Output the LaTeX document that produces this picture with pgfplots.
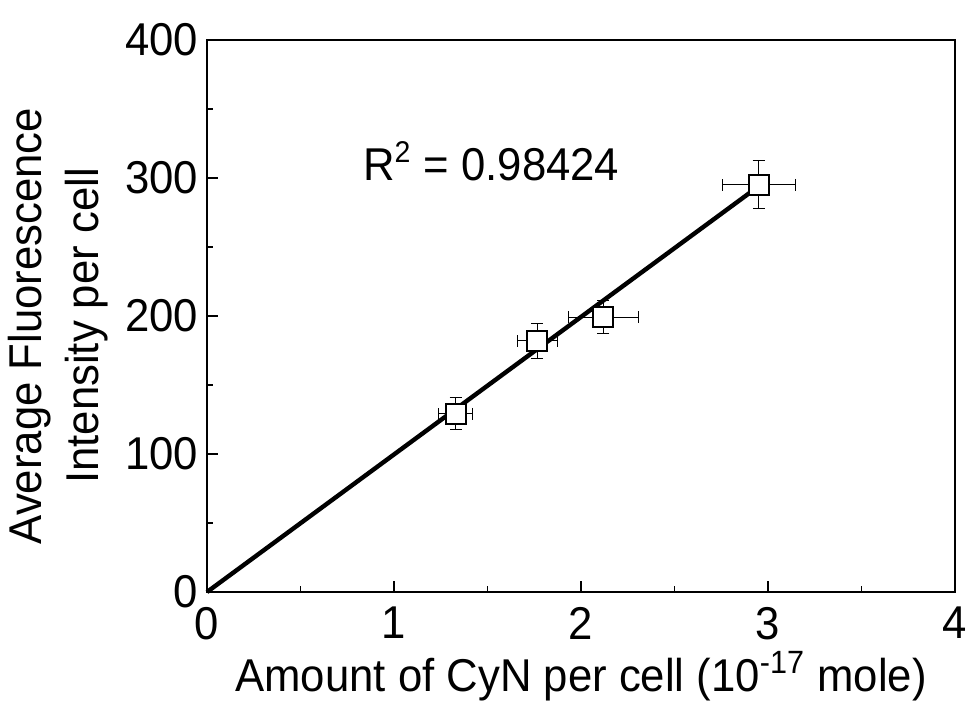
\documentclass[border=0pt]{standalone}
\usepackage{fontspec}
\setmainfont{Liberation Sans}[FakeStretch=0.95]
\usepackage{pgfplots}
\pgfplotsset{compat=1.18}

\begin{document}
\begin{tikzpicture}
\begin{axis}[
    name=ax,
    scale only axis,
    width=374pt, height=276pt,
    xmin=0, xmax=4, ymin=0, ymax=400,
    xtick={0,1,2,3,4}, ytick={0,100,200,300,400},
    minor xtick={0.5,1.5,2.5,3.5}, minor ytick={50,150,250,350},
    xtick pos=bottom, ytick pos=left,
    tick align=inside,
    major tick length=5.5pt, minor tick length=3pt,
    every tick/.style={black, line width=0.8pt},
    axis line style={line width=1pt},
    /pgf/number format/assume math mode=true,
    ticklabel style={font=\fontsize{23}{25}\selectfont},
    xticklabel style={yshift=-4pt},
    yticklabel style={xshift=-1pt},
    xlabel={Amount of CyN per cell (10\textsuperscript{-17} mole)},
    ylabel={\begin{tabular}{c}Average Fluorescence\\Intensity per cell\end{tabular}},
    label style={font=\fontsize{23}{28.5}\selectfont},
    xlabel style={yshift=1pt},
    ylabel style={yshift=-2pt, xshift=-5pt},
    clip=false,
]
\addplot[
    only marks, black,
    mark=square*, mark size=5pt,
    mark options={fill=white, line width=1pt},
    error bars/.cd,
        x dir=both, x explicit,
        y dir=both, y explicit,
        error bar style={line width=0.5pt},
        error mark options={rotate=90, mark size=3pt, line width=0.5pt},
] coordinates {
    (1.33, 129) +- (0.09, 11.6)
    (1.765, 182) +- (0.107, 12.7)
    (2.12, 199) +- (0.187, 12)
    (2.95, 295) +- (0.195, 17.4)
};
\addplot[black, line width=2.2pt] coordinates {(0,0) (2.97,296)};
\node[font=\fontsize{23}{25}\selectfont] at (axis cs:1.52,312) {R\textsuperscript{\fontsize{15}{15}\selectfont 2} = 0.98424};
\end{axis}
\pgfresetboundingbox
\path ([shift={(-103.5pt,-57pt)}]ax.south west) rectangle ([shift={(9.5pt,20pt)}]ax.north east);
\end{tikzpicture}
\end{document}
